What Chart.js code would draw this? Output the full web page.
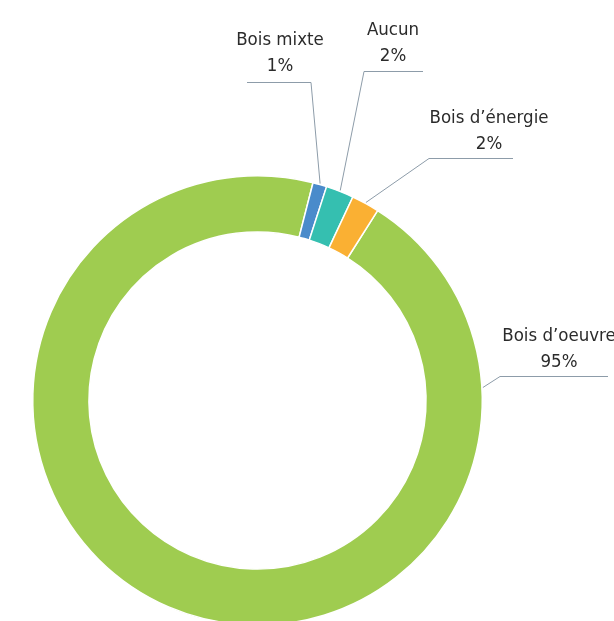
<!DOCTYPE html>
<html>
<head>
<meta charset="utf-8">
<script src="https://cdn.jsdelivr.net/npm/chart.js@4.4.1/dist/chart.umd.min.js"></script>
<style>
  html, body { margin: 0; padding: 0; background: #fff; overflow: hidden; }
  #wrap { width: 614px; height: 630px; }
</style>
</head>
<body>
<div id="wrap"><canvas id="woodChart" width="614" height="630"></canvas></div>
<script>
const categories = ['Bois d’oeuvre', 'Bois mixte', 'Aucun', 'Bois d’énergie'];
const shares = [95, 1, 2, 2];
const shareLabels = ['95%', '1%', '2%', '2%'];
const colors = ['#9fcc50', '#4a8bcb', '#35bfb0', '#fab033'];

// where each callout text sits, and its leader line (layout only)
const callouts = [
  { tx: 559, ty: 336, ly: 376, lx0: 608, lx1: 500, angle: 86.7 },
  { tx: 280, ty: 40, ly: 82, lx0: 247, lx1: 311 },
  { tx: 393, ty: 30, ly: 71, lx0: 423, lx1: 364 },
  { tx: 489, ty: 118, ly: 158, lx0: 513, lx1: 429 }
];

const calloutPlugin = {
  id: 'callouts',
  afterDatasetsDraw(chart) {
    const ctx = chart.ctx;
    const meta = chart.getDatasetMeta(0);
    ctx.save();
    meta.data.forEach((arc, i) => {
      const c = callouts[i];
      const p = arc.getProps(['x', 'y', 'startAngle', 'endAngle', 'outerRadius'], true);
      let a = (p.startAngle + p.endAngle) / 2;
      if (c.angle !== undefined) a = (c.angle - 90) * Math.PI / 180;
      const ex = p.x + Math.cos(a) * (p.outerRadius + 1);
      const ey = p.y + Math.sin(a) * (p.outerRadius + 1);

      ctx.strokeStyle = '#8d9ca9';
      ctx.lineWidth = 1;
      ctx.beginPath();
      ctx.moveTo(c.lx0, c.ly + 0.5);
      ctx.lineTo(c.lx1, c.ly + 0.5);
      ctx.lineTo(ex, ey);
      ctx.stroke();

      ctx.fillStyle = '#2b2b2b';
      ctx.font = '18.5px "DejaVu Sans Condensed", sans-serif';
      ctx.textAlign = 'center';
      ctx.textBaseline = 'middle';
      ctx.fillText(categories[i], c.tx, c.ty);
      ctx.fillText(shareLabels[i], c.tx, c.ty + 26);
    });
    ctx.restore();
  }
};

new Chart(document.getElementById('woodChart'), {
  type: 'doughnut',
  data: {
    labels: categories,
    datasets: [{
      data: shares,
      backgroundColor: colors,
      borderColor: '#ffffff',
      borderWidth: 1.5
    }]
  },
  options: {
    responsive: false,
    animation: false,
    cutout: '75%',
    rotation: 32.3,
    layout: { padding: { left: 32, right: 131, top: 175, bottom: 4 } },
    plugins: {
      legend: { display: false },
      tooltip: { enabled: false }
    }
  },
  plugins: [calloutPlugin]
});
</script>
</body>
</html>
